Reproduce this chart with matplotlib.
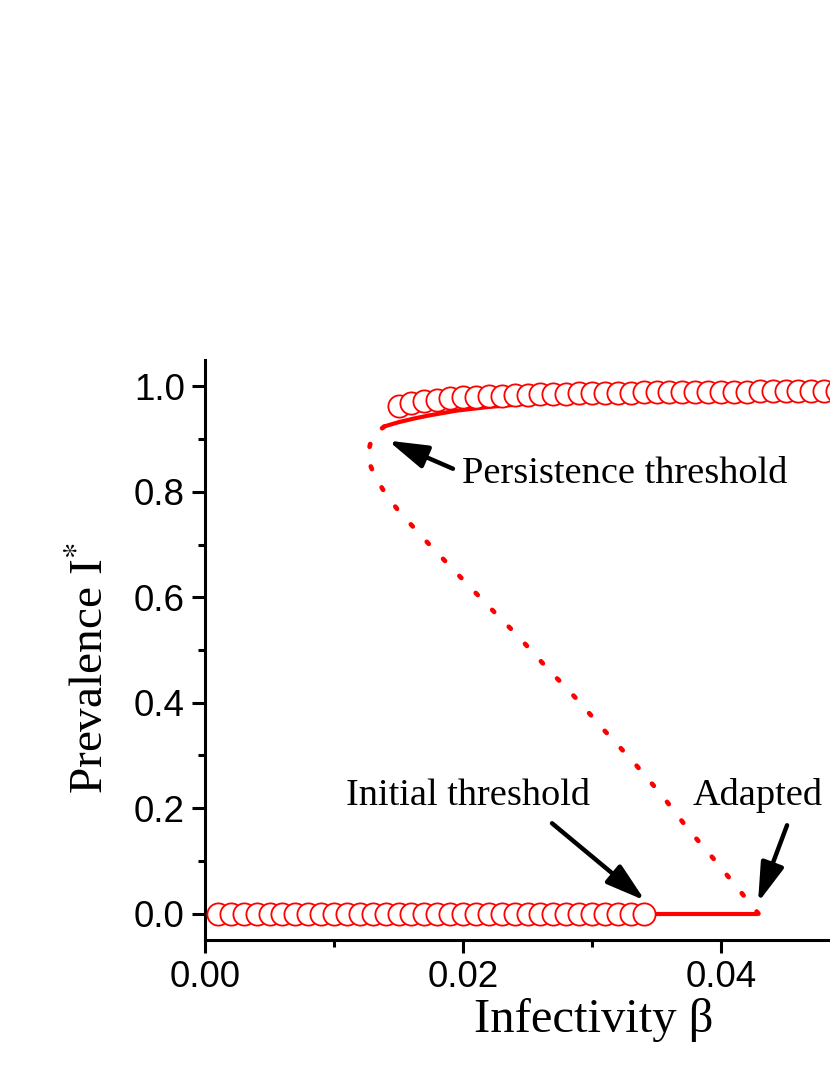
import matplotlib
matplotlib.use("Agg")
import matplotlib.pyplot as plt
from matplotlib.ticker import FixedLocator, FormatStrFormatter

# ---------------- data ----------------
# simulation points (open circles), lower branch
low_sim_x = [0.001, 0.002, 0.003, 0.004, 0.005, 0.006, 0.007, 0.008, 0.009, 0.010,
             0.011, 0.012, 0.013, 0.014, 0.015, 0.016, 0.017, 0.018, 0.019, 0.020,
             0.021, 0.022, 0.023, 0.024, 0.025, 0.026, 0.027, 0.028, 0.029, 0.030,
             0.031, 0.032, 0.033, 0.034]
low_sim_y = [0.0, 0.0, 0.0, 0.0, 0.0, 0.0, 0.0, 0.0, 0.0, 0.0,
             0.0, 0.0, 0.0, 0.0, 0.0, 0.0, 0.0, 0.0, 0.0, 0.0,
             0.0, 0.0, 0.0, 0.0, 0.0, 0.0, 0.0, 0.0, 0.0, 0.0,
             0.0, 0.0, 0.0, 0.0]

# simulation points, upper branch
up_sim_x = [0.015, 0.016, 0.017, 0.018, 0.019, 0.020, 0.021, 0.022, 0.023, 0.024,
            0.025, 0.026, 0.027, 0.028, 0.029, 0.030, 0.031, 0.032, 0.033, 0.034,
            0.035, 0.036, 0.037, 0.038, 0.039, 0.040, 0.041, 0.042, 0.043, 0.044,
            0.045, 0.046, 0.047, 0.048, 0.049, 0.050]
up_sim_y = [0.963, 0.969, 0.973, 0.975, 0.977, 0.979, 0.980, 0.981, 0.982, 0.983,
            0.984, 0.985, 0.985, 0.986, 0.987, 0.987, 0.988, 0.988, 0.988, 0.989,
            0.989, 0.989, 0.989, 0.990, 0.990, 0.990, 0.990, 0.990, 0.991, 0.991,
            0.991, 0.991, 0.991, 0.991, 0.992, 0.992]

# theory: stable upper branch (solid)
stable_up_x = [0.0139, 0.0150, 0.0162, 0.0174, 0.0195, 0.0220, 0.0250, 0.0300,
               0.0350, 0.0400, 0.0450, 0.0500]
stable_up_y = [0.924, 0.932, 0.939, 0.945, 0.954, 0.961, 0.967, 0.974,
               0.979, 0.983, 0.986, 0.988]

# theory: stable disease-free branch (solid)
stable_low_x = [0.0341, 0.0429]
stable_low_y = [0.0, 0.0]

# theory: unstable branch (dotted)
unstable_x = [0.0139, 0.01295, 0.01256, 0.01318, 0.0140, 0.0150, 0.0172, 0.0195,
              0.0219, 0.0242, 0.0264, 0.0287, 0.0309, 0.0332, 0.0354, 0.0374,
              0.0396, 0.0417, 0.0429]
unstable_y = [0.924, 0.905, 0.865, 0.829, 0.796, 0.764, 0.705, 0.646,
              0.585, 0.528, 0.469, 0.410, 0.349, 0.288, 0.225, 0.162,
              0.099, 0.036, 0.0]

x_ticks = [0.00, 0.02, 0.04]
x_minor = [0.01, 0.03, 0.05]
y_ticks = [0.0, 0.2, 0.4, 0.6, 0.8, 1.0]
y_minor = [0.1, 0.3, 0.5, 0.7, 0.9]

# annotations: (text, text xy, arrow tail, arrow tip)
ann_texts = ["Persistence threshold", "Initial threshold", "Adapted"]
ann_text_xy = [(0.01992, 0.817), (0.01093, 0.2057), (0.03783, 0.2057)]
ann_tail = [(0.01922, 0.8438), (0.0269, 0.1714), (0.04512, 0.1676)]
ann_tip = [(0.01419, 0.8971), (0.03411, 0.0248), (0.04287, 0.021)]

# ---------------- figure ----------------
plt.rcParams['mathtext.fontset'] = 'stix'
W, H = 830, 1075
fig = plt.figure(figsize=(W / 100, H / 100), dpi=100)
ax = fig.add_axes([205 / W, 135 / H, (850 - 205) / W, 580 / H])
ax.set_xlim(0, 0.05)
ax.set_ylim(-0.05, 1.05)

red = '#ff0000'
ax.plot(stable_up_x, stable_up_y, color=red, lw=3, solid_capstyle='butt', zorder=2)
ax.plot(stable_low_x, stable_low_y, color=red, lw=3, solid_capstyle='butt', zorder=2)
ax.plot(unstable_x, unstable_y, color=red, lw=3.4, linestyle=(0, (0.6, 4.4)),
        dash_capstyle='round', zorder=2)
ax.plot(low_sim_x, low_sim_y, linestyle='none', marker='o', ms=16,
        mfc='white', mec=red, mew=1.3, zorder=3, clip_on=False)
ax.plot(up_sim_x, up_sim_y, linestyle='none', marker='o', ms=16,
        mfc='white', mec=red, mew=1.3, zorder=3)

serif = ['Liberation Serif', 'DejaVu Serif']
for t, txy, tail, tip in zip(ann_texts, ann_text_xy, ann_tail, ann_tip):
    ax.text(txy[0], txy[1], t, family=serif, fontsize=27.6, ha='left', va='baseline')
    ax.annotate('', xy=tip, xytext=tail,
                arrowprops=dict(arrowstyle='-|>,head_length=0.8,head_width=0.24',
                                lw=3.2, color='black', shrinkA=0, shrinkB=0,
                                mutation_scale=30))

# spines / ticks
for s in ['top', 'right']:
    ax.spines[s].set_visible(False)
for s in ['left', 'bottom']:
    ax.spines[s].set_linewidth(2.2)

ax.xaxis.set_major_locator(FixedLocator(x_ticks))
ax.xaxis.set_minor_locator(FixedLocator(x_minor))
ax.yaxis.set_major_locator(FixedLocator(y_ticks))
ax.yaxis.set_minor_locator(FixedLocator(y_minor))
ax.xaxis.set_major_formatter(FormatStrFormatter('%.2f'))
ax.yaxis.set_major_formatter(FormatStrFormatter('%.1f'))
ax.tick_params(which='major', direction='out', length=9.5, width=2.2,
               labelsize=26.5, pad=5)
ax.tick_params(which='minor', direction='out', length=5, width=2.2)
for lab in ax.get_xticklabels() + ax.get_yticklabels():
    lab.set_family(['Liberation Sans', 'DejaVu Sans'])

fig.text(594 / W, 1 - 1032 / H, 'Infectivity β', family=serif, fontsize=35,
         ha='center', va='baseline')
fig.text(103 / W, 1 - 668 / H, 'Prevalence I$^{*}$', family=serif, fontsize=34,
         rotation=90, rotation_mode='anchor', ha='center', va='baseline')

fig.savefig('out.png', dpi=100)
